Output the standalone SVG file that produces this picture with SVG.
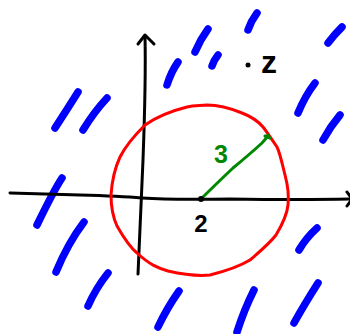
<svg xmlns="http://www.w3.org/2000/svg" width="350" height="334" viewBox="0 0 350 334">
<style>
.ax{fill:none;stroke:#000;stroke-width:3;stroke-linecap:round;stroke-linejoin:round}
.bl{fill:none;stroke:#0000ff;stroke-width:7.5;stroke-linecap:round}
.rc{fill:none;stroke:#ff0000;stroke-width:3;stroke-linejoin:round}
.gr{fill:none;stroke:#008800;stroke-width:3;stroke-linecap:round;stroke-linejoin:round}
.lb{font-family:"Liberation Sans",Arial,sans-serif;font-weight:bold;text-anchor:middle}
</style>
<rect width="350" height="334" fill="#fff"/>
<g id="region">
<path class="bl" d="M78,92 Q68,108 55,128"/>
<path class="bl" d="M107,98 Q94,112 83,130"/>
<path class="bl" d="M178,62 Q171,72 167,85"/>
<path class="bl" d="M208,29 Q200,40 195,52"/>
<path class="bl" d="M257,13 Q251,21 248,30"/>
<path class="bl" d="M218,55 Q214,60 212,66"/>
<path class="bl" d="M342,27 Q334,35 328,43"/>
<path class="bl" d="M315,83 Q305,96 298,113"/>
<path class="bl" d="M340,115 Q330,127 323,140"/>
<path class="bl" d="M62,178 Q54,190 37,225"/>
<path class="bl" d="M84,222 Q68,243 56,272"/>
<path class="bl" d="M108,273 Q96,288 88,306"/>
<path class="bl" d="M179,291 Q167,308 158,327"/>
<path class="bl" d="M317,228 Q306,238 299,250"/>
<path class="bl" d="M318,283 Q304,305 294,323"/>
<path class="bl" d="M254,290 Q244,310 237,332"/>
</g>
<g id="connectors">
<path id="x-axis" class="ax" d="M10,193 Q50,194 80,195 Q120,196 142,198 Q170,200 230,199 Q300,200 352,199"/>
<path class="ax" d="M347,192 L352,199 L347,206"/>
<path id="y-axis" class="ax" d="M145,36 Q146,80 143,160 Q140,230 138,274"/>
<path class="ax" d="M138,44 L145,35 L154,44"/>
</g>
<g id="circle">
<path class="rc" d="M207,105 C216,105 225,106 242,113 C250,116 257,120 263,127 C267,132 270,137 277,147 C280,153 283,167 285,175 C288,186 289,195 288,205 C287,215 282,225 276,235 C270,243 265,247 250,260 C240,266 230,270 210,275 C200,276 190,276 168,271 C158,268 150,265 137,253 C131,248 125,240 117,226 C112,215 111,205 111,195 C112,180 114,170 120,157 C125,147 133,137 145,125 C155,118 167,112 187,107 C195,105 200,106 207,105 Z"/>
</g>
<g id="radius">
<path class="gr" d="M201,199 Q215,185 233,168 Q250,154 262,143 Q266,139 268,135"/>
<path class="gr" d="M265,136 L270,138"/>
<text class="lb" x="221" y="163" font-size="25" fill="#008800">3</text>
</g>
<g id="point-2">
<circle cx="201" cy="199" r="3" fill="#000"/>
<text class="lb" x="201" y="232" font-size="24" fill="#000">2</text>
</g>
<g id="point-z">
<circle cx="248" cy="65" r="2.5" fill="#000"/>
<text class="lb" x="269" y="73" font-size="32" fill="#000">z</text>
</g>
</svg>
